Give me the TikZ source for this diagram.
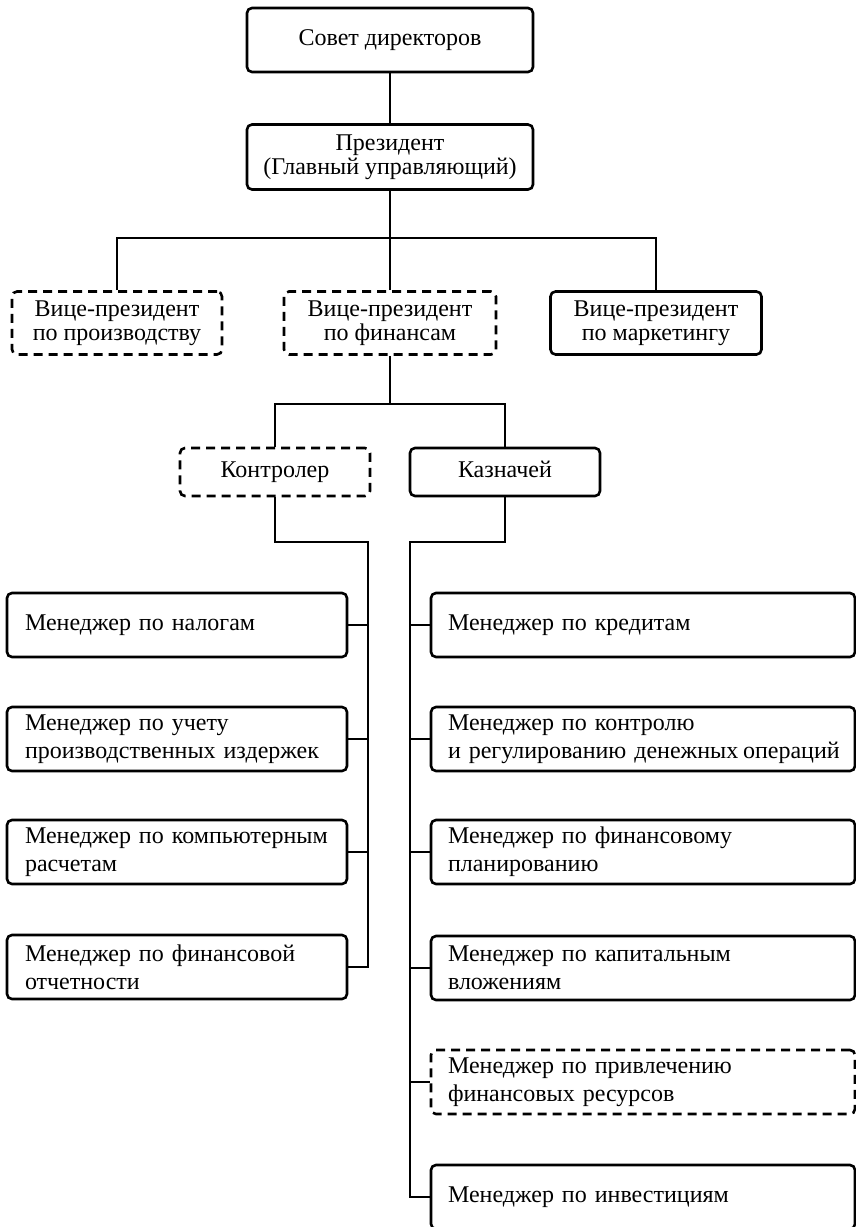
\documentclass[tikz,border=0pt]{standalone}
\usepackage{fontspec}
\setmainfont{Liberation Serif}
\begin{document}
\begin{tikzpicture}[x=1pt,y=-1pt,
  conn/.style={line width=2.7pt},
  box/.style={draw, line width=2.6pt, rounded corners=5pt, inner sep=0pt,
    font=\fontsize{24}{24}\selectfont, align=center},
  one/.style={text height=16pt, text depth=5pt},
  dbox/.style={box, dash pattern=on 9pt off 6pt},
  lm/.style={box, minimum height=64pt, text width=304pt, inner xsep=18pt, align=left,
    font=\fontsize{24}{28}\selectfont},
  rm/.style={box, minimum height=64pt, text width=390pt, inner xsep=17pt, align=left,
    font=\fontsize{24}{28}\selectfont},
  dlm/.style={rm, dash pattern=on 9pt off 6pt}]
\useasboundingbox (0,0) rectangle (856,1227);
\fill[white] (0,0) rectangle (856,1227);

\node[box, one, minimum width=286pt, minimum height=64pt] (sovet) at (390,40) {Совет директоров};
\node[box, minimum width=286pt, minimum height=65pt] (pres) at (390,157) {Президент\\(Главный управляющий)};

\node[dbox, minimum width=210pt, minimum height=63pt] (vpprod) at (117,323) {Вице-президент\\по производству};
\node[dbox, minimum width=212pt, minimum height=63pt] (vpfin) at (390,323) {Вице-президент\\по финансам};
\node[box, minimum width=211pt, minimum height=63pt] (vpmark) at (656,323) {Вице-президент\\по маркетингу};

\node[dbox, one, minimum width=190pt, minimum height=48pt] (kontr) at (275,472) {Контролер};
\node[box, one, minimum width=190pt, minimum height=48pt] (kazn) at (505,472) {Казначей};

\node[lm, one] (l1) at (177,625) {Менеджер по налогам};
\node[lm] (l2) at (177,739) {Менеджер по учету\\производственных издержек};
\node[lm] (l3) at (177,852) {Менеджер по компьютерным\\расчетам};
\node[lm] (l4) at (177,967) {Менеджер по финансовой\\отчетности};

\node[rm, one] (r1) at (643,625) {Менеджер по кредитам};
\node[rm] (r2) at (643,739) {Менеджер по контролю\\\mbox{и регулированию денежных\hspace{0.2em}операций}};
\node[rm] (r3) at (643,852) {Менеджер по финансовому\\планированию};
\node[rm] (r4) at (643,968) {Менеджер по капитальным\\вложениям};
\node[dlm] (r5) at (643,1082) {Менеджер по привлечению\\финансовых ресурсов};
\node[rm, one] (r6) at (643,1197) {Менеджер по инвестициям};

\coordinate (bus1) at (0,238);
\coordinate (bus2) at (0,404);
\coordinate (lt) at (368,542);
\coordinate (rt) at (410,542);

\draw[conn] (sovet) -- (pres);
\draw[conn] (pres.south) -- (pres.south |- bus1);
\draw[conn] (vpprod.north) -- (vpprod.north |- bus1) -- (vpmark.north |- bus1) -- (vpmark.north);
\draw[conn] (vpfin.north) -- (vpfin.north |- bus1);

\draw[conn] (vpfin.south) -- (vpfin.south |- bus2);
\draw[conn] (kontr.north) -- (kontr.north |- bus2) -- (kazn.north |- bus2) -- (kazn.north);

\draw[conn] (kontr.south) |- (lt) -- (lt |- l4.east) -- (l4.east);
\draw[conn] (kazn.south) |- (rt) -- (rt |- r6.west) -- (r6.west);
\foreach \i in {1,2,3} \draw[conn] (l\i.east) -- (l\i.east -| lt);
\foreach \i in {1,2,3,4,5} \draw[conn] (r\i.west) -- (r\i.west -| rt);
\end{tikzpicture}
\end{document}
